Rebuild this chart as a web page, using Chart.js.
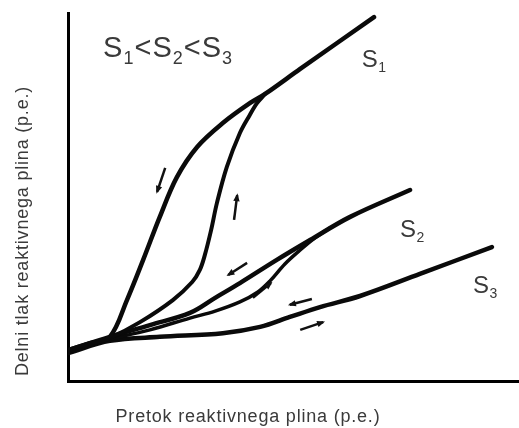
<!DOCTYPE html>
<html>
<head>
<meta charset="utf-8">
<script src="https://cdn.jsdelivr.net/npm/chart.js@4/dist/chart.umd.min.js"></script>
<style>
  html, body { margin: 0; padding: 0; background: #fff; }
  #wrap { width: 519px; height: 428px; }
</style>
</head>
<body>
<div id="wrap"><canvas id="hysteresisChart"></canvas></div>
<script>
// axis titles
const xTitle = 'Pretok reaktivnega plina (p.e.)';
const yTitle = 'Delni tlak reaktivnega plina (p.e.)';

// curves (relative units, 0..100)
const s1Down = [[0, 8.4], [4.9, 10.3], [9.3, 12.0], [13.1, 22.0], [16.7, 32.9], [20.4, 44.6], [24.2, 55.4], [28.7, 63.6], [34.4, 70.1], [40.4, 75.5], [43.8, 78.0], [51.6, 84.8], [68.0, 98.9]];
const s1Up = [[0, 7.9], [4.9, 9.8], [9.3, 11.7], [16.0, 16.0], [23.3, 22.0], [27.6, 26.9], [29.3, 30.2], [30.4, 34.2], [31.8, 41.0], [33.1, 48.4], [35.3, 58.2], [38.2, 67.4], [40.4, 72.3], [42.0, 75.5], [43.8, 78.0]];
const s2Down = [[0, 8.4], [9.3, 12.0], [18.2, 15.2], [27.1, 18.5], [32.7, 22.6], [38.2, 26.6], [46.4, 32.9], [53.8, 38.3], [62.7, 44.6], [76.0, 51.9]];
const s2Up = [[9.3, 11.4], [18.2, 13.9], [27.1, 17.1], [32.7, 19.0], [38.2, 21.5], [42.2, 24.2], [44.9, 27.2], [48.2, 31.8], [51.6, 35.6], [54.9, 38.9], [58.2, 41.6]];
const s3 = [[0, 7.6], [9.3, 10.9], [20.4, 12.0], [34.4, 13.0], [42.7, 14.7], [49.3, 17.4], [56.0, 20.1], [64.9, 23.1], [78.2, 29.1], [94.2, 36.4]];

// direction arrows: [tail, head]
const arrows = [
  [[21.6, 57.9], [19.8, 51.4]],
  [[36.9, 43.8], [37.6, 50.5]],
  [[39.8, 32.1], [35.6, 28.8]],
  [[41.1, 22.6], [45.1, 26.6]],
  [[54.2, 22.3], [49.3, 20.7]],
  [[51.6, 13.9], [56.7, 16.0]]
];

// labels: position plus text pieces ([text, isSubscript])
const curveLabels = [
  { x: 65.3, y: 85.3, parts: [['S', 0], ['1', 1]] },
  { x: 73.8, y: 39.1, parts: [['S', 0], ['2', 1]] },
  { x: 90.0, y: 23.9, parts: [['S', 0], ['3', 1]] }
];
const orderLabel = { x: 7.8, y: 88.0, parts: [['S', 0], ['1', 1], ['<', 0], ['S', 0], ['2', 1], ['<', 0], ['S', 0], ['3', 1]] };

const toXY = (arr) => arr.map(([x, y]) => ({ x, y }));

function curve(points, width) {
  return {
    data: toXY(points),
    showLine: true,
    borderColor: '#0a0a0a',
    borderWidth: width,
    pointRadius: 0,
    tension: 0.35,
    borderCapStyle: 'round'
  };
}

const datasets = [
  curve(s1Down, 4.5),
  curve(s1Up, 4),
  curve(s2Down, 4.5),
  curve(s2Up, 3.5),
  curve(s3, 4.5)
];
arrows.forEach((a) => {
  datasets.push({
    data: toXY(a),
    showLine: true,
    borderColor: '#111',
    borderWidth: 2.5,
    pointRadius: 0,
    isArrow: true
  });
});

function drawParts(ctx, x, y, parts, size, subSize) {
  let cx = x;
  parts.forEach(([t, sub]) => {
    ctx.font = (sub ? subSize : size) + 'px "Liberation Sans", Arial, sans-serif';
    ctx.fillText(t, cx, sub ? y + size * 0.22 : y);
    cx += ctx.measureText(t).width;
  });
}

const decorations = {
  id: 'decorations',
  afterDatasetsDraw(chart) {
    const { ctx, scales } = chart;
    ctx.save();
    // arrow heads
    chart.data.datasets.forEach((ds, i) => {
      if (!ds.isArrow) return;
      const pts = chart.getDatasetMeta(i).data;
      const t = pts[0], h = pts[1];
      const ang = Math.atan2(h.y - t.y, h.x - t.x);
      ctx.fillStyle = '#111';
      ctx.beginPath();
      ctx.moveTo(h.x + Math.cos(ang) * 2, h.y + Math.sin(ang) * 2);
      ctx.lineTo(h.x - Math.cos(ang) * 6 + Math.sin(ang) * 3.2, h.y - Math.sin(ang) * 6 - Math.cos(ang) * 3.2);
      ctx.lineTo(h.x - Math.cos(ang) * 6 - Math.sin(ang) * 3.2, h.y - Math.sin(ang) * 6 + Math.cos(ang) * 3.2);
      ctx.closePath();
      ctx.fill();
    });
    // labels
    ctx.fillStyle = '#3a3a3a';
    ctx.textBaseline = 'alphabetic';
    ctx.textAlign = 'left';
    ctx.letterSpacing = '0.5px';
    curveLabels.forEach((l) => {
      drawParts(ctx, scales.x.getPixelForValue(l.x), scales.y.getPixelForValue(l.y), l.parts, 24, 14);
    });
    ctx.letterSpacing = '1px';
    drawParts(ctx, scales.x.getPixelForValue(orderLabel.x), scales.y.getPixelForValue(orderLabel.y), orderLabel.parts, 29, 18);
    // axis titles
    ctx.font = '18px "Liberation Sans", Arial, sans-serif';
    ctx.letterSpacing = '0.8px';
    ctx.textAlign = 'center';
    ctx.textBaseline = 'middle';
    ctx.fillText(xTitle, 248, 417);
    ctx.translate(23, 231);
    ctx.rotate(-Math.PI / 2);
    ctx.fillText(yTitle, 0, 0);
    ctx.restore();
  }
};

new Chart(document.getElementById('hysteresisChart'), {
  type: 'scatter',
  data: { datasets },
  options: {
    responsive: true,
    maintainAspectRatio: false,
    animation: false,
    layout: { padding: { top: 13, right: 1, left: 0, bottom: 0 } },
    plugins: {
      legend: { display: false },
      tooltip: { enabled: false }
    },
    scales: {
      x: {
        min: 0,
        max: 100,
        ticks: { display: false },
        grid: { display: false },
        border: { color: '#000', width: 3 },
        afterFit: (s) => { s.height = 47; }
      },
      y: {
        min: 0,
        max: 100,
        ticks: { display: false },
        grid: { display: false },
        border: { color: '#000', width: 3 },
        afterFit: (s) => { s.width = 68; }
      }
    }
  },
  plugins: [decorations]
});
</script>
</body>
</html>
